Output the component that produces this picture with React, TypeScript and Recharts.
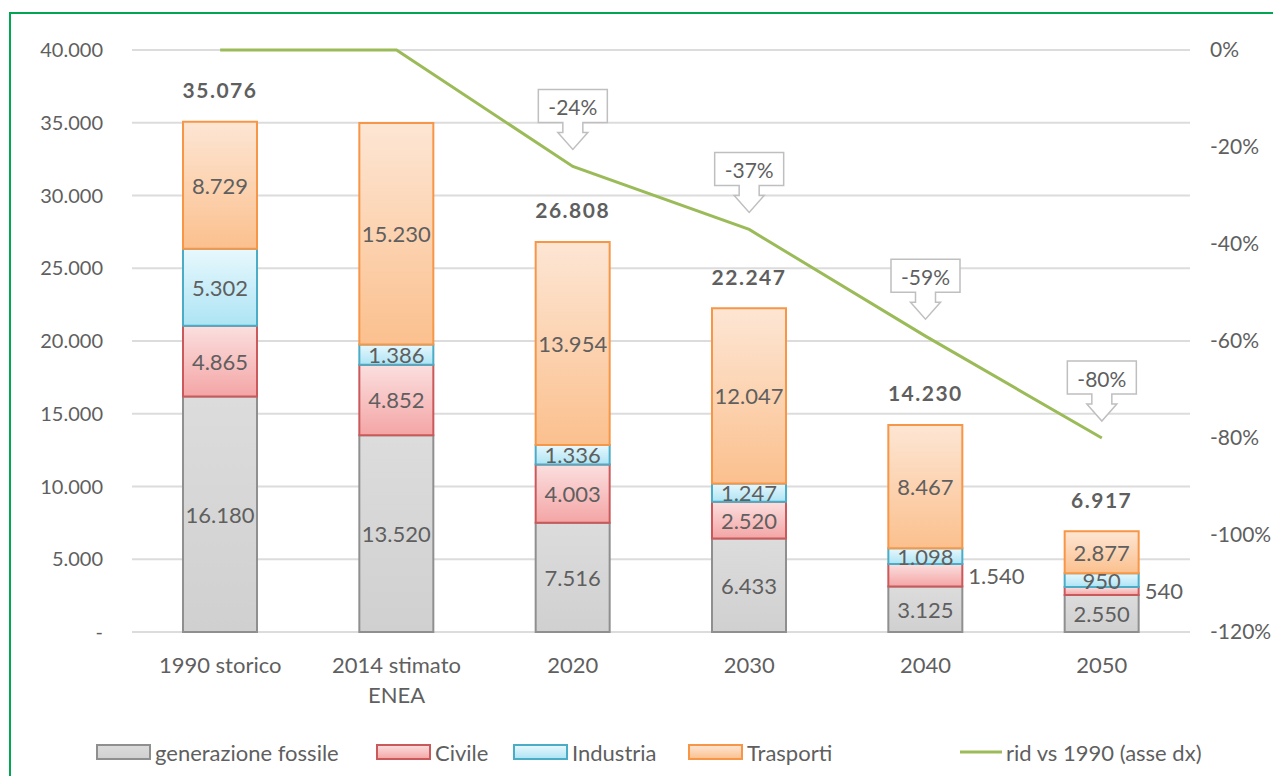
import {
  Bar,
  CartesianGrid,
  ComposedChart,
  LabelList,
  Legend,
  Line,
  XAxis,
  YAxis,
} from "recharts";

const categories = ["1990 storico", "2014 stimato\nENEA", "2020", "2030", "2040", "2050"];
const fossile = [16180, 13520, 7516, 6433, 3125, 2550];
const civile = [4865, 4852, 4003, 2520, 1540, 540];
const industria = [5302, 1386, 1336, 1247, 1098, 950];
const trasporti = [8729, 15230, 13954, 12047, 8467, 2877];
const totali = [35076, null, 26808, 22247, 14230, 6917];
const riduzione = [0, 0, -24, -37, -59, -80];
const leftTicks = [0, 5000, 10000, 15000, 20000, 25000, 30000, 35000, 40000];
const rightTicks = [-120, -100, -80, -60, -40, -20, 0];

const names: Record<string, string> = {
  fossile: "generazione fossile",
  civile: "Civile",
  industria: "Industria",
  trasporti: "Trasporti",
  rid: "rid vs 1990 (asse dx)",
};

const data = categories.map((cat, i) => ({
  cat,
  fossile: fossile[i],
  civile: civile[i],
  industria: industria[i],
  trasporti: trasporti[i],
  totale: totali[i],
  rid: riduzione[i],
}));

const FONT = "Lato, 'Open Sans', sans-serif";
const TXT = "#5f5f5f";

const swatch: Record<string, { fill: string; stroke: string }> = {
  fossile: { fill: "url(#gFossile)", stroke: "#8f8f8f" },
  civile: { fill: "url(#gCivile)", stroke: "#c9595a" },
  industria: { fill: "url(#gIndustria)", stroke: "#4bacc6" },
  trasporti: { fill: "url(#gTrasporti)", stroke: "#f79646" },
};

const fmt = (v: number) =>
  v === 0 ? "-" : String(v).replace(/\B(?=(\d{3})+(?!\d))/g, ".");

function box(props: any) {
  const vb = props.viewBox ?? {};
  return {
    x: props.x ?? vb.x,
    y: props.y ?? vb.y,
    width: props.width ?? vb.width ?? 0,
    height: props.height ?? vb.height ?? 0,
  };
}

// etichette dei segmenti; quelle piccole del civile vanno a destra della barra
const segLabel = (outsideSmall: boolean) => (props: any) => {
  const { x, y, width, height } = box(props);
  const v = Number(props.value);
  const outside = outsideSmall && v < 2000;
  return (
    <text
      x={outside ? x + width + 6 : x + width / 2}
      y={y + height / 2}
      textAnchor={outside ? "start" : "middle"}
      dominantBaseline="central"
      fill={TXT}
      fontSize={22}
      fontFamily={FONT}
    >
      {fmt(v)}
    </text>
  );
};

const TotalLabel = (props: any) => {
  const { x, y, width } = box(props);
  const tot = totali[props.index];
  if (tot == null) return null;
  return (
    <text
      x={x + width / 2}
      y={y - 32}
      textAnchor="middle"
      dominantBaseline="central"
      fill={TXT}
      fontSize={21}
      fontWeight={700}
      letterSpacing={1.5}
      fontFamily={FONT}
    >
      {fmt(tot)}
    </text>
  );
};

const Callout = (props: any) => {
  const { x, y } = box(props);
  if (props.index < 2) return null;
  const w = 69;
  const top = y - 77;
  const bot = y - 44;
  const stem = y - 34;
  const tip = y - 17;
  const d = `M${x - w / 2},${top} H${x + w / 2} V${bot} H${x + 10} V${stem} H${x + 15} L${x},${tip} L${x - 15},${stem} H${x - 10} V${bot} H${x - w / 2} Z`;
  return (
    <g>
      <path d={d} fill="#fff" stroke="#bfbfbf" strokeWidth={1.5} />
      <text
        x={x}
        y={(top + bot) / 2 + 1}
        textAnchor="middle"
        dominantBaseline="central"
        fill={TXT}
        fontSize={21}
        fontFamily={FONT}
      >
        {`${props.value}%`}
      </text>
    </g>
  );
};

const CatTick = ({ x, y, payload }: any) => {
  const lines = String(payload.value).split("\n");
  return (
    <text x={x} y={y + 41} textAnchor="middle" fill={TXT} fontSize={22} fontFamily={FONT}>
      {lines.map((l, i) => (
        <tspan key={i} x={x} dy={i === 0 ? 0 : 30}>
          {l}
        </tspan>
      ))}
    </text>
  );
};

const legendOrder = ["fossile", "civile", "industria", "trasporti"];
const itemWidths = [280, 137, 175, 272];

const LegendBox = () => (
  <div
    style={{
      height: 32,
      display: "flex",
      alignItems: "center",
      paddingLeft: 96,
      fontFamily: FONT,
      fontSize: 22,
      color: TXT,
      boxSizing: "border-box",
    }}
  >
    {legendOrder.map((k, i) => (
      <div key={k} style={{ width: itemWidths[i], display: "flex", alignItems: "center" }}>
        <svg width={56} height={18} style={{ marginRight: 3 }}>
          <rect x={1} y={2} width={53} height={14} fill={swatch[k].fill} stroke={swatch[k].stroke} strokeWidth={2} />
        </svg>
        <span>{names[k]}</span>
      </div>
    ))}
    <div style={{ display: "flex", alignItems: "center" }}>
      <svg width={44} height={18} style={{ marginRight: 2 }}>
        <line x1={0} y1={9} x2={42} y2={9} stroke="#9bbb59" strokeWidth={3} />
      </svg>
      <span>{names.rid}</span>
    </div>
  </div>
);

export default function App() {
  return (
    <div
      style={{
        position: "absolute",
        left: 0,
        top: 0,
        width: 1273,
        height: 776,
        background: "#fff",
        overflow: "hidden",
      }}
    >
      <div
        style={{
          position: "absolute",
          left: 9,
          top: 12,
          width: 1300,
          height: 800,
          borderLeft: "2px solid #00a651",
          borderTop: "2px solid #00a651",
        }}
      />
      <div style={{ position: "absolute", left: 0, top: 0 }}>
        <ComposedChart
          width={1273}
          height={776}
          data={data}
          margin={{ top: 50, right: 0, left: 0, bottom: 8 }}
        >
          <defs>
            <linearGradient id="gFossile" x1="0" y1="0" x2="0" y2="1">
              <stop offset="0%" stopColor="#dcdcdc" />
              <stop offset="100%" stopColor="#d0d0d0" />
            </linearGradient>
            <linearGradient id="gCivile" x1="0" y1="0" x2="0" y2="1">
              <stop offset="0%" stopColor="#fbdfdf" />
              <stop offset="100%" stopColor="#f4a5a5" />
            </linearGradient>
            <linearGradient id="gIndustria" x1="0" y1="0" x2="0" y2="1">
              <stop offset="0%" stopColor="#e8f8fd" />
              <stop offset="100%" stopColor="#ade4f4" />
            </linearGradient>
            <linearGradient id="gTrasporti" x1="0" y1="0" x2="0" y2="1">
              <stop offset="0%" stopColor="#fde6d4" />
              <stop offset="100%" stopColor="#fbc08e" />
            </linearGradient>
          </defs>
          <CartesianGrid yAxisId="left" vertical={false} stroke="#dcdcdc" strokeWidth={2} />
          <XAxis
            dataKey="cat"
            height={104}
            interval={0}
            axisLine={false}
            tickLine={false}
            tickSize={0}
            tickMargin={0}
            tick={<CatTick />}
          />
          <YAxis
            yAxisId="left"
            width={132}
            domain={[0, 40000]}
            ticks={leftTicks}
            tickFormatter={fmt}
            axisLine={false}
            tickLine={false}
            tickSize={0}
            tickMargin={29}
            tick={{ fill: TXT, fontSize: 20, fontFamily: FONT }}
          />
          <YAxis
            yAxisId="right"
            orientation="right"
            width={83}
            domain={[-120, 0]}
            ticks={rightTicks}
            tickFormatter={(v) => `${v}%`}
            axisLine={false}
            tickLine={false}
            tickSize={0}
            tickMargin={20}
            tick={{ fill: TXT, fontSize: 21, fontFamily: FONT }}
          />
          <Legend
            verticalAlign="bottom"
            wrapperStyle={{ left: 0, width: 1273 }}
            content={() => <LegendBox />}
          />
          <Bar yAxisId="left" dataKey="fossile" name={names.fossile} stackId="a" barSize={74}
            fill={swatch.fossile.fill} stroke={swatch.fossile.stroke} strokeWidth={2} isAnimationActive={false}>
            <LabelList dataKey="fossile" content={segLabel(false)} />
          </Bar>
          <Bar yAxisId="left" dataKey="civile" name={names.civile} stackId="a" barSize={74}
            fill={swatch.civile.fill} stroke={swatch.civile.stroke} strokeWidth={2} isAnimationActive={false}>
            <LabelList dataKey="civile" content={segLabel(true)} />
          </Bar>
          <Bar yAxisId="left" dataKey="industria" name={names.industria} stackId="a" barSize={74}
            fill={swatch.industria.fill} stroke={swatch.industria.stroke} strokeWidth={2} isAnimationActive={false}>
            <LabelList dataKey="industria" content={segLabel(false)} />
          </Bar>
          <Bar yAxisId="left" dataKey="trasporti" name={names.trasporti} stackId="a" barSize={74}
            fill={swatch.trasporti.fill} stroke={swatch.trasporti.stroke} strokeWidth={2} isAnimationActive={false}>
            <LabelList dataKey="trasporti" content={segLabel(false)} />
            <LabelList dataKey="totale" content={TotalLabel} />
          </Bar>
          <Line
            yAxisId="right"
            type="linear"
            dataKey="rid"
            name={names.rid}
            stroke="#9bbb59"
            strokeWidth={3}
            dot={false}
            activeDot={false}
            isAnimationActive={false}
          >
            <LabelList dataKey="rid" content={Callout} />
          </Line>
        </ComposedChart>
      </div>
    </div>
  );
}
